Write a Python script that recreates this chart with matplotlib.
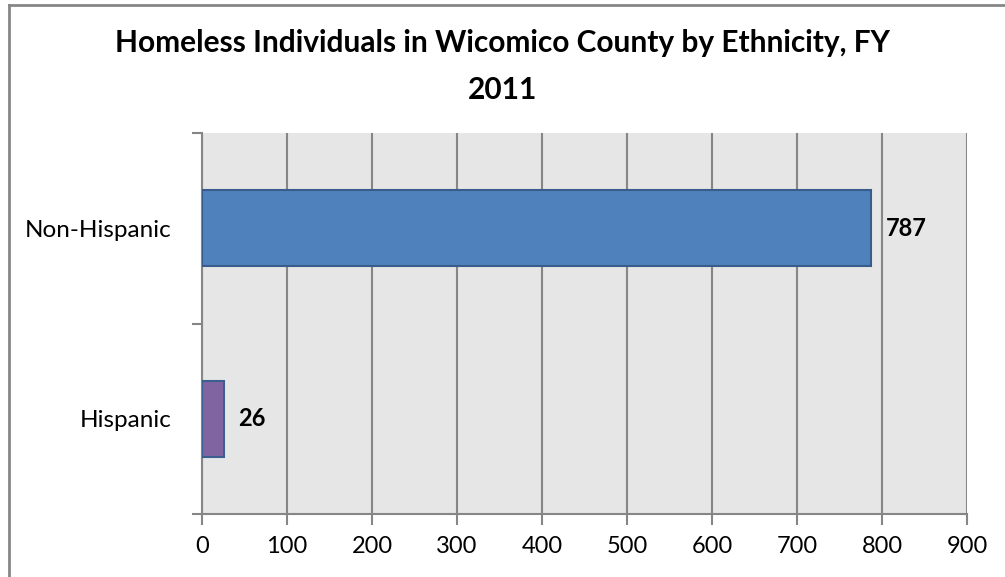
import matplotlib.pyplot as plt
from matplotlib.lines import Line2D

categories = ['Hispanic', 'Non-Hispanic']
counts = [26, 787]
bar_colors = ['#8064A2', '#4F81BD']
edge_colors = ['#3C5F92', '#385D8A']
x_ticks = [0, 100, 200, 300, 400, 500, 600, 700, 800, 900]

plt.rcParams['font.family'] = ['Lato', 'DejaVu Sans']
grey = '#868686'

fig = plt.figure(figsize=(10.05, 5.77), dpi=100)
ax = fig.add_axes([202 / 1005, 63 / 577, 765 / 1005, 381 / 577])

ax.set_facecolor('#E6E6E6')
ax.barh(range(len(categories)), counts, height=0.4, color=bar_colors,
        edgecolor=edge_colors, linewidth=1.5, zorder=3)

for i, v in enumerate(counts):
    ax.text(v + 17, i, str(v), va='center', ha='left', fontsize=17,
            fontweight='bold', zorder=4)

ax.set_xlim(0, 900)
ax.set_ylim(-0.5, 1.5)
ax.set_xticks(x_ticks)
ax.set_xticklabels([str(t) for t in x_ticks], fontsize=17)
ax.xaxis.grid(True, color=grey, linewidth=1.5, zorder=1)
ax.set_axisbelow(True)

# category labels centred on bars, tick marks on category boundaries
ax.set_yticks([-0.5, 0.5, 1.5])
ax.set_yticklabels([])
ax.set_yticks([0, 1], minor=True)
ax.set_yticklabels(categories, minor=True, fontsize=17.5)
ax.tick_params(axis='y', which='minor', length=0, pad=22)
ax.tick_params(axis='y', which='major', length=7, width=1.5, color=grey)
ax.tick_params(axis='x', length=8, width=1.5, color=grey, pad=8)

for side in ['top', 'right']:
    ax.spines[side].set_visible(False)
for side in ['left', 'bottom']:
    ax.spines[side].set_color(grey)
    ax.spines[side].set_linewidth(1.5)

fig.text(0.5, 0.885, 'Homeless Individuals in Wicomico County by Ethnicity, FY\n2011',
         ha='center', va='center', fontsize=21.5, fontweight='bold', linespacing=1.85)

# chart frame (left and top edges)
fx, fy = 8.5 / 1005, 1 - 4.5 / 577
fig.add_artist(Line2D([fx, fx], [0, fy], color=grey, linewidth=2))
fig.add_artist(Line2D([fx, 1], [fy, fy], color=grey, linewidth=2))

fig.savefig('out.png', dpi=100)
